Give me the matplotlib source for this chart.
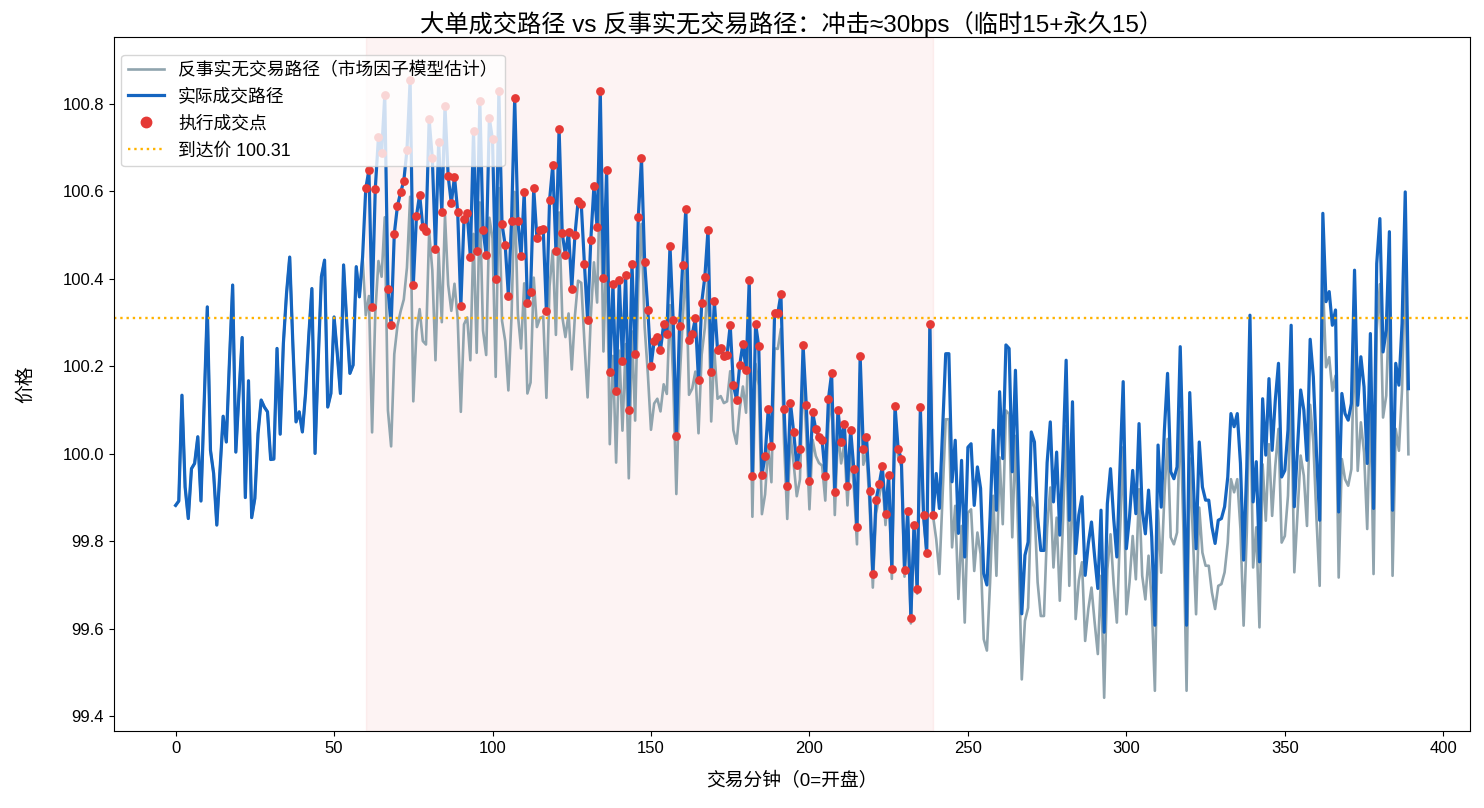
import numpy as np
import matplotlib
matplotlib.use("Agg")
import matplotlib.pyplot as plt
from matplotlib.lines import Line2D

plt.rcParams['font.family'] = ['Liberation Sans', 'Noto Sans CJK SC', 'DejaVu Sans']
plt.rcParams['axes.unicode_minus'] = False

# ---------------- data ----------------
# actual traded price path, minute 0..389
actual = [
    99.882, 99.892, 100.134, 99.924, 99.852, 99.966, 99.978, 100.039, 99.892, 100.115,
    100.336, 100.008, 99.955, 99.837, 99.962, 100.086, 100.027, 100.214, 100.386, 100.004,
    100.138, 100.266, 99.900, 100.167, 99.854, 99.898, 100.046, 100.123, 100.107, 100.096,
    99.987, 99.988, 100.241, 100.045, 100.252, 100.367, 100.450, 100.250, 100.073, 100.096,
    100.050, 100.138, 100.268, 100.378, 100.001, 100.214, 100.405, 100.443, 100.107, 100.138,
    100.313, 100.230, 100.138, 100.432, 100.300, 100.184, 100.203, 100.428, 100.359, 100.450,
    100.607, 100.649, 100.336, 100.606, 100.724, 100.687, 100.821, 100.378, 100.294, 100.503,
    100.567, 100.598, 100.624, 100.695, 100.855, 100.386, 100.544, 100.593, 100.519, 100.509,
    100.765, 100.676, 100.468, 100.714, 100.552, 100.795, 100.635, 100.573, 100.634, 100.554,
    100.338, 100.536, 100.550, 100.451, 100.738, 100.464, 100.807, 100.512, 100.455, 100.767,
    100.719, 100.400, 100.830, 100.525, 100.477, 100.362, 100.532, 100.813, 100.532, 100.452,
    100.599, 100.346, 100.369, 100.607, 100.493, 100.512, 100.514, 100.326, 100.580, 100.660,
    100.465, 100.744, 100.504, 100.455, 100.508, 100.378, 100.500, 100.578, 100.571, 100.434,
    100.306, 100.488, 100.612, 100.518, 100.829, 100.403, 100.649, 100.188, 100.388, 100.143,
    100.397, 100.212, 100.409, 100.100, 100.435, 100.229, 100.541, 100.676, 100.438, 100.330,
    100.200, 100.258, 100.268, 100.237, 100.297, 100.274, 100.475, 100.306, 100.040, 100.292,
    100.433, 100.561, 100.261, 100.273, 100.310, 100.168, 100.346, 100.405, 100.513, 100.188,
    100.349, 100.237, 100.241, 100.224, 100.226, 100.294, 100.157, 100.124, 100.203, 100.252,
    100.191, 100.397, 99.949, 100.298, 100.246, 99.951, 99.994, 100.102, 100.019, 100.323,
    100.321, 100.365, 100.102, 99.927, 100.117, 100.051, 99.974, 100.010, 100.248, 100.111,
    99.937, 100.095, 100.056, 100.039, 100.031, 99.949, 100.126, 100.184, 99.912, 100.101,
    100.026, 100.069, 99.927, 100.055, 99.966, 99.833, 100.224, 100.012, 100.038, 99.915,
    99.726, 99.894, 99.930, 99.972, 99.863, 99.951, 99.737, 100.110, 100.010, 99.989,
    99.735, 99.869, 99.625, 99.838, 99.690, 100.106, 99.860, 99.774, 100.297, 99.860,
    99.955, 99.875, 100.054, 100.229, 100.229, 99.936, 100.031, 99.818, 99.985, 99.764,
    100.015, 100.023, 99.882, 99.970, 99.921, 99.726, 99.700, 99.856, 100.054, 99.871,
    100.142, 99.989, 100.249, 100.241, 99.959, 100.191, 99.930, 99.634, 99.768, 99.798,
    100.050, 100.027, 99.856, 99.779, 99.779, 99.980, 100.073, 99.890, 100.004, 99.814,
    99.993, 100.214, 99.848, 100.119, 99.772, 99.860, 99.902, 99.722, 99.795, 99.844,
    99.764, 99.692, 99.871, 99.592, 99.886, 99.966, 99.852, 99.764, 99.970, 100.165,
    99.783, 99.856, 99.962, 99.863, 100.069, 99.871, 99.817, 99.917, 99.810, 99.608,
    100.020, 99.878, 100.054, 100.184, 99.959, 99.943, 99.970, 100.245, 99.978, 99.608,
    100.140, 99.962, 99.783, 100.027, 99.924, 99.894, 99.894, 99.833, 99.795, 99.848,
    99.852, 99.879, 99.947, 100.092, 100.062, 100.092, 99.978, 99.757, 99.970, 100.317,
    99.890, 99.982, 99.753, 100.126, 99.997, 100.172, 100.008, 100.123, 100.207, 99.947,
    99.962, 100.054, 100.294, 99.879, 100.014, 100.146, 100.100, 99.985, 100.262, 100.176,
    100.000, 99.848, 100.550, 100.348, 100.371, 100.294, 100.329, 99.867, 100.138, 100.092,
    100.077, 100.115, 100.420, 100.111, 100.222, 100.153, 99.978, 100.275, 99.875, 100.435,
    100.538, 100.233, 100.283, 100.508, 99.871, 100.207, 100.157, 100.298, 100.599, 100.149,
]

# counterfactual (no-trade) path; identical to the actual path before minute 60,
# values below are minutes 60..389
counterfactual_60_389 = [
    100.317, 100.361, 100.049, 100.321, 100.441, 100.405, 100.541, 100.099, 100.017, 100.228,
    100.293, 100.326, 100.353, 100.426, 100.588, 100.120, 100.280, 100.331, 100.258, 100.250,
    100.507, 100.420, 100.214, 100.461, 100.301, 100.545, 100.387, 100.327, 100.389, 100.311,
    100.096, 100.296, 100.312, 100.214, 100.503, 100.231, 100.575, 100.282, 100.226, 100.540,
    100.493, 100.176, 100.608, 100.304, 100.258, 100.145, 100.316, 100.599, 100.319, 100.241,
    100.390, 100.138, 100.163, 100.403, 100.290, 100.311, 100.314, 100.128, 100.384, 100.465,
    100.272, 100.552, 100.314, 100.267, 100.321, 100.193, 100.316, 100.396, 100.391, 100.255,
    100.129, 100.313, 100.438, 100.346, 100.658, 100.234, 100.482, 100.022, 100.224, 99.980,
    100.236, 100.053, 100.251, 99.944, 100.280, 100.076, 100.390, 100.526, 100.290, 100.184,
    100.055, 100.115, 100.126, 100.097, 100.159, 100.137, 100.340, 100.172, 99.908, 100.162,
    100.304, 100.434, 100.135, 100.149, 100.188, 100.047, 100.227, 100.288, 100.397, 100.074,
    100.236, 100.126, 100.132, 100.116, 100.120, 100.189, 100.054, 100.023, 100.103, 100.154,
    100.094, 100.302, 99.856, 100.206, 100.156, 99.862, 99.907, 100.017, 99.935, 100.241,
    100.240, 100.286, 100.025, 99.851, 100.043, 99.979, 99.903, 99.941, 100.180, 100.045,
    99.873, 100.032, 99.995, 99.979, 99.973, 99.893, 100.071, 100.131, 99.860, 100.051,
    99.978, 100.022, 99.882, 100.012, 99.924, 99.793, 100.185, 99.975, 100.003, 99.881,
    99.694, 99.863, 99.901, 99.945, 99.837, 99.927, 99.714, 100.089, 99.991, 99.971,
    99.719, 99.855, 99.612, 99.827, 99.680, 100.098, 99.854, 99.769, 100.294, 99.858,
    99.805, 99.725, 99.904, 100.079, 100.079, 99.786, 99.881, 99.668, 99.835, 99.614,
    99.865, 99.873, 99.732, 99.820, 99.771, 99.576, 99.550, 99.706, 99.904, 99.721,
    99.992, 99.839, 100.099, 100.091, 99.809, 100.041, 99.780, 99.484, 99.618, 99.648,
    99.900, 99.877, 99.706, 99.629, 99.629, 99.830, 99.923, 99.740, 99.854, 99.664,
    99.843, 100.064, 99.698, 99.969, 99.622, 99.710, 99.752, 99.572, 99.645, 99.694,
    99.614, 99.542, 99.721, 99.442, 99.736, 99.816, 99.702, 99.614, 99.820, 100.015,
    99.633, 99.706, 99.812, 99.713, 99.919, 99.721, 99.667, 99.767, 99.660, 99.458,
    99.870, 99.728, 99.904, 100.034, 99.809, 99.793, 99.820, 100.095, 99.828, 99.458,
    99.990, 99.812, 99.633, 99.877, 99.774, 99.744, 99.744, 99.683, 99.645, 99.698,
    99.702, 99.729, 99.797, 99.942, 99.912, 99.942, 99.828, 99.607, 99.820, 100.167,
    99.740, 99.832, 99.603, 99.976, 99.847, 100.022, 99.858, 99.973, 100.057, 99.797,
    99.812, 99.904, 100.144, 99.729, 99.864, 99.996, 99.950, 99.835, 100.112, 100.026,
    99.850, 99.698, 100.400, 100.198, 100.221, 100.144, 100.179, 99.717, 99.988, 99.942,
    99.927, 99.965, 100.270, 99.961, 100.072, 100.003, 99.828, 100.125, 99.725, 100.285,
    100.388, 100.083, 100.133, 100.358, 99.721, 100.057, 100.007, 100.148, 100.449, 99.999,
]

exec_start, exec_end = 60, 240       # execution minutes [60, 240)
arrival_price = 100.31

title = "大单成交路径 vs 反事实无交易路径：冲击≈30bps（临时15+永久15）"
xlabel = "交易分钟（0=开盘）"
ylabel = "价格"
legend_labels = ["反事实无交易路径（市场因子模型估计）", "实际成交路径", "执行成交点",
                 f"到达价 {arrival_price:.2f}"]

# ---------------- plot ----------------
minutes = np.arange(len(actual))
actual_arr = np.array(actual)
counterfactual = np.array(actual[:exec_start] + counterfactual_60_389)
exec_minutes = minutes[exec_start:exec_end]
exec_prices = actual_arr[exec_start:exec_end]

fig = plt.figure(figsize=(14.84, 8.08), dpi=100)
ax = fig.add_axes([0.0768, 0.0953, 0.9138, 0.8587])

ax.axvspan(exec_start, exec_end - 1, color='#E53935', alpha=0.06, zorder=0)
ax.plot(minutes, counterfactual, color='#90A4AE', lw=1.9, zorder=1)
ax.plot(minutes, actual_arr, color='#1565C0', lw=2.3, zorder=2)
ax.scatter(exec_minutes, exec_prices, s=40, color='#E53935', zorder=3, linewidths=0)
ax.axhline(arrival_price, color='#FFB300', ls=':', lw=1.7, zorder=2.5)

ax.set_ylim(99.366, 100.953)
ax.set_title(title, fontsize=17.5, pad=2)
ax.set_xlabel(xlabel, fontsize=13.5, labelpad=12)
ax.set_ylabel(ylabel, fontsize=13.5, labelpad=20)
ax.tick_params(labelsize=12)

handles = [
    Line2D([], [], color='#90A4AE', lw=1.9),
    Line2D([], [], color='#1565C0', lw=2.3),
    Line2D([], [], color='#E53935', marker='o', ls='none', markersize=7.5),
    Line2D([], [], color='#FFB300', ls=':', lw=1.7),
]
ax.legend(handles, legend_labels, loc='upper left', bbox_to_anchor=(0.0, 0.985),
          fontsize=12.8, labelspacing=0.55, framealpha=0.8, borderaxespad=0.4)

fig.savefig("out.png", dpi=100)
